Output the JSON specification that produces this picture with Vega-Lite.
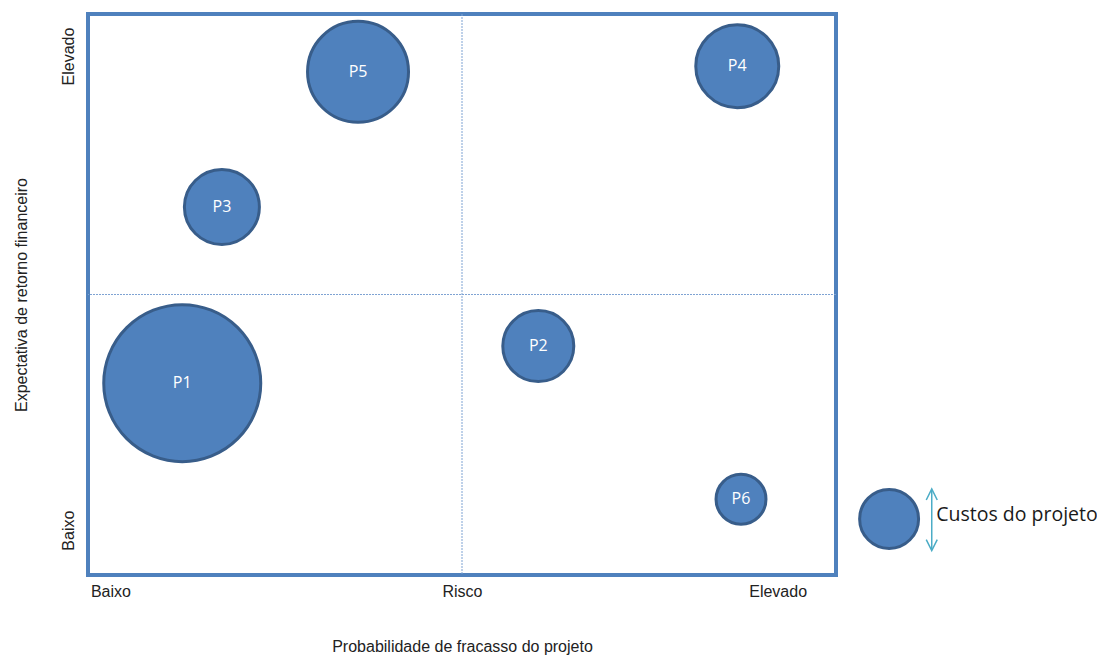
{
  "$schema": "https://vega.github.io/schema/vega-lite/v6.json",
  "width": 748,
  "height": 561,
  "autosize": {"type": "none"},
  "padding": {"left": 88, "top": 14, "right": 261, "bottom": 82},
  "background": "white",
  "view": {"stroke": "#4F81BD", "strokeWidth": 4},
  "config": {"font": "Liberation Sans"},
  "datasets": {
    "projects": [
      {"projeto": "P1", "risco": 12.6, "retorno": 34.2, "custo": 193.6},
      {"projeto": "P2", "risco": 60.2, "retorno": 40.8, "custo": 39.6},
      {"projeto": "P3", "risco": 17.9, "retorno": 65.6, "custo": 44.2},
      {"projeto": "P4", "risco": 86.8, "retorno": 90.7, "custo": 54.1},
      {"projeto": "P5", "risco": 36.1, "retorno": 89.7, "custo": 80.1},
      {"projeto": "P6", "risco": 87.3, "retorno": 13.5, "custo": 19.6}
    ],
    "legend": [
      {"risco": 107.1, "retorno": 10.0, "custo": 27.3}
    ]
  },
  "layer": [
    {
      "data": {"values": [{"v": 50}]},
      "mark": {"type": "rule", "color": "#7FA3D3", "strokeWidth": 1, "strokeDash": [2, 1]},
      "encoding": {
        "x": {"field": "v", "type": "quantitative", "scale": {"domain": [0, 100], "nice": false, "zero": false},
          "axis": {"values": [3, 50, 92.2], "labelExpr": "datum.value < 10 ? 'Baixo' : datum.value < 60 ? 'Risco' : 'Elevado'", "title": "Probabilidade de fracasso do projeto", "domain": false, "ticks": false, "grid": false, "labelFontSize": 16, "labelColor": "#222", "labelPadding": 8, "titleFontSize": 16, "titleFontWeight": "normal", "titleColor": "#222", "titlePadding": 39}}
      }
    },
    {
      "data": {"values": [{"v": 50}]},
      "mark": {"type": "rule", "color": "#7FA3D3", "strokeWidth": 1, "strokeDash": [2, 1]},
      "encoding": {
        "y": {"field": "v", "type": "quantitative", "scale": {"domain": [0, 100], "nice": false, "zero": false},
          "axis": {"values": [8, 92.5], "labelExpr": "datum.value < 50 ? 'Baixo' : 'Elevado'", "labelAngle": -90, "labelAlign": "center", "labelBaseline": "bottom", "title": "Expectativa de retorno financeiro", "domain": false, "ticks": false, "grid": false, "labelFontSize": 16, "labelColor": "#222", "labelPadding": 12, "titleFontSize": 16, "titleFontWeight": "normal", "titleColor": "#222", "titlePadding": 31}}
      }
    },
    {
      "data": {"name": "projects"},
      "mark": {"type": "point", "shape": "circle", "filled": true, "fill": "#4F81BD", "fillOpacity": 1, "stroke": "#385D8A", "strokeWidth": 3, "opacity": 1},
      "encoding": {
        "x": {"field": "risco", "type": "quantitative"},
        "y": {"field": "retorno", "type": "quantitative"},
        "size": {"field": "custo", "type": "quantitative", "scale": {"type": "linear", "domain": [0, 100], "range": [0, 12732]}, "legend": null}
      }
    },
    {
      "data": {"name": "projects"},
      "mark": {"type": "text", "color": "white", "fontSize": 16, "font": "Open Sans"},
      "encoding": {
        "x": {"field": "risco", "type": "quantitative"},
        "y": {"field": "retorno", "type": "quantitative"},
        "text": {"field": "projeto"}
      }
    },
    {
      "data": {"name": "legend"},
      "mark": {"type": "point", "shape": "circle", "filled": true, "fill": "#4F81BD", "fillOpacity": 1, "stroke": "#385D8A", "strokeWidth": 3, "opacity": 1, "clip": false},
      "encoding": {
        "x": {"field": "risco", "type": "quantitative"},
        "y": {"field": "retorno", "type": "quantitative"},
        "size": {"field": "custo", "type": "quantitative", "scale": {"type": "linear", "domain": [0, 100], "range": [0, 12732]}, "legend": null}
      }
    },
    {
      "data": {"values": [{"x": 112.8, "y1": 15.15, "y2": 4.46}]},
      "mark": {"type": "rule", "color": "#4BACC6", "strokeWidth": 1.5, "clip": false},
      "encoding": {
        "x": {"field": "x", "type": "quantitative"},
        "y": {"field": "y1", "type": "quantitative"},
        "y2": {"field": "y2"}
      }
    },
    {
      "data": {"values": [{"x": 112.8, "y": 13.37, "s": "M-0.5,0L0,-1L0.5,0"}, {"x": 112.8, "y": 6.3, "s": "M-0.5,0L0,1L0.5,0"}]},
      "mark": {"type": "point", "filled": false, "stroke": "#4BACC6", "strokeWidth": 1.5, "size": 484, "opacity": 1, "clip": false},
      "encoding": {
        "x": {"field": "x", "type": "quantitative"},
        "y": {"field": "y", "type": "quantitative"},
        "shape": {"field": "s", "type": "nominal", "scale": null}
      }
    },
    {
      "data": {"values": [{"x": 113.4, "y": 10.7, "t": "Custos do projeto"}]},
      "mark": {"type": "text", "align": "left", "baseline": "middle", "fontSize": 19.5, "color": "#1a1a1a", "font": "Open Sans", "clip": false},
      "encoding": {
        "x": {"field": "x", "type": "quantitative"},
        "y": {"field": "y", "type": "quantitative"},
        "text": {"field": "t"}
      }
    }
  ]
}
